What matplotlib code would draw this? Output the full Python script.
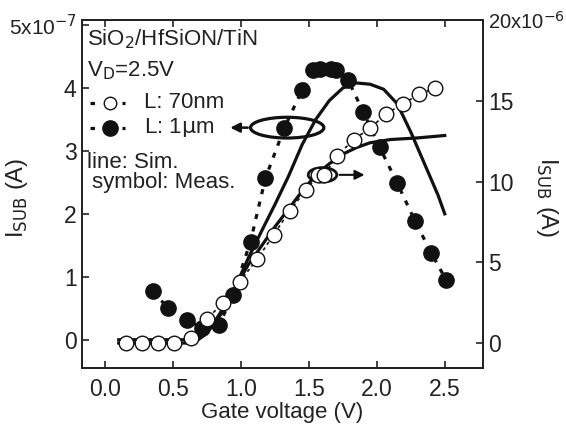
import matplotlib
matplotlib.use('Agg')
import matplotlib.pyplot as plt
from matplotlib.patches import Ellipse
from matplotlib.lines import Line2D

plt.rcParams['font.family'] = ['Liberation Sans', 'DejaVu Sans']

# L = 1 um, measured (left axis, x1e-7 A)
v_1um = [0.35, 0.46, 0.60, 0.71, 0.84, 0.94, 1.07, 1.18, 1.32, 1.45, 1.53, 1.58,
         1.66, 1.70, 1.79, 1.90, 2.02, 2.15, 2.28, 2.40, 2.51]
i_1um = [0.77, 0.51, 0.32, 0.19, 0.24, 0.71, 1.56, 2.57, 3.37, 3.97, 4.28, 4.30,
         4.30, 4.28, 4.12, 3.62, 3.06, 2.49, 1.89, 1.38, 0.95]

# L = 70 nm, measured (right axis, x1e-6 A)
v_70 = [0.15, 0.27, 0.39, 0.51, 0.63, 0.75, 0.87, 0.99, 1.12, 1.24, 1.36, 1.48,
        1.57, 1.61, 1.71, 1.83, 1.95, 2.07, 2.19, 2.31, 2.43]
i_70 = [0.0, 0.0, 0.0, 0.0, 0.3, 1.5, 2.5, 3.8, 5.2, 6.7, 8.2, 9.5,
        10.4, 10.4, 11.6, 12.6, 13.3, 14.2, 14.8, 15.4, 15.8]

# simulations
v_sim1 = [0.10, 0.65, 0.75, 0.85, 0.95, 1.05, 1.15, 1.25, 1.35, 1.45, 1.55, 1.65,
          1.75, 1.85, 1.95, 2.05, 2.15, 2.25, 2.35, 2.45, 2.50]
i_sim1 = [0.0, 0.0, 0.12, 0.4, 0.8, 1.28, 1.72, 2.15, 2.6, 3.1, 3.5, 3.8,
          4.0, 4.08, 4.06, 3.98, 3.75, 3.3, 2.8, 2.3, 2.0]
v_sim70 = [0.10, 0.65, 0.75, 0.85, 0.95, 1.05, 1.15, 1.25, 1.35, 1.45, 1.55, 1.65,
           1.75, 1.85, 1.95, 2.10, 2.30, 2.50]
i_sim70 = [0.0, 0.0, 0.6, 1.9, 3.3, 4.8, 6.0, 7.2, 8.3, 9.4, 10.4, 11.1,
           11.7, 12.1, 12.4, 12.6, 12.7, 12.85]

xticks = [0.0, 0.5, 1.0, 1.5, 2.0, 2.5]
lticks = [0, 1, 2, 3, 4, 5]
lticklabels = ['0', '1', '2', '3', '4', r'5x10$^{-7}$']
rticks = [0, 5, 10, 15, 20]
rticklabels = ['0', '5', '10', '15', r'20x10$^{-6}$']

ink = '#222222'
fig = plt.figure(figsize=(5.66, 4.26), dpi=100)
ax = fig.add_axes([0.145, 0.136, 0.708, 0.817])
ax2 = ax.twinx()

ax.plot(v_sim1, i_sim1, '-', color='#111111', lw=2.3, zorder=2)
ax.plot(v_1um, i_1um, color='#111111', lw=2.3, ls=(0, (1.6, 2.4)), zorder=2)
ax.plot(v_1um, i_1um, 'o', color='#111111', ms=11, zorder=4)

ax2.plot(v_sim70, i_sim70, '-', color='#111111', lw=2.3, zorder=2)
ax2.plot(v_70, i_70, color='#111111', lw=1.2, ls=(0, (2, 2)), zorder=2)
ax2.plot(v_70, i_70, 'o', mfc='white', mec='#111111', mew=1.0, ms=10.5, zorder=3)

ax.set_xlim(-0.17, 2.78)
ax.set_ylim(-0.45, 5.08)
ax2.set_ylim(-1.55, 20.0)

ax.set_xticks(xticks)
ax.set_xticklabels(['%.1f' % x for x in xticks])
ax.set_yticks(lticks)
ax.set_yticklabels(lticklabels)
ax2.set_yticks(rticks)
ax2.set_yticklabels(rticklabels)

ax.tick_params(axis='x', direction='in', top=True, length=5, width=1.2,
               labelsize=16.5, pad=7, colors=ink)
ax.tick_params(axis='y', direction='in', length=5, width=1.2,
               labelsize=16.5, pad=4, colors=ink)
ax2.tick_params(axis='y', direction='in', length=5, width=1.2,
                labelsize=16.5, pad=4, colors=ink)
ax.get_yticklabels()[-1].set_fontsize(15)
ax2.get_yticklabels()[-1].set_fontsize(14.5)
for a in (ax, ax2):
    for s in a.spines.values():
        s.set_linewidth(1.3)
        s.set_color(ink)

ax.set_xlabel('Gate voltage (V)', fontsize=16, color=ink, labelpad=1)
ax.set_ylabel(r'I$_{\mathrm{SUB}}$ (A)', fontsize=17, color=ink)
ax.yaxis.set_label_coords(-0.13, 0.49)
ax2.set_ylabel(r'I$_{\mathrm{SUB}}$ (A)', fontsize=17, color=ink, rotation=270,
               va='center')
ax2.yaxis.set_label_coords(1.16, 0.49)

# ellipses and arrows
ax.add_patch(Ellipse((1.34, 3.37), 0.54, 0.33, fill=False, lw=2.3, ec='#111111', zorder=5))
ax.annotate('', xy=(0.90, 3.37), xytext=(1.07, 3.37),
            arrowprops=dict(arrowstyle='-|>', color='#111111', lw=1.8, mutation_scale=14))
ax.add_patch(Ellipse((1.60, 2.62), 0.21, 0.23, fill=False, lw=2.0, ec='#111111', zorder=5))
ax.annotate('', xy=(1.93, 2.62), xytext=(1.705, 2.62),
            arrowprops=dict(arrowstyle='-|>', color='#111111', lw=1.5, mutation_scale=14))

# legend block
tr = ax.transAxes
fs = 16
ax.text(0.013, 0.945, r'SiO$_2$/HfSiON/TiN', transform=tr, fontsize=fs, color=ink, va='center')
ax.text(0.013, 0.853, r'V$_\mathrm{D}$=2.5V', transform=tr, fontsize=fs, color=ink, va='center')
for y, filled, lab in [(0.763, False, 'L: 70nm'), (0.69, True, r'L: 1$\mathrm{\mu}$m')]:
    ax.add_line(Line2D([0.02, 0.107], [y, y], transform=tr, color='#111111', lw=2.3,
                       ls=(0, (1.4, 3.6))))
    ax.add_line(Line2D([0.07], [y], transform=tr, marker='o', ms=11 if filled else 9,
                       mfc='#111111' if filled else 'white', mec='#111111', mew=1.0))
    ax.text(0.155, y, lab, transform=tr, fontsize=fs, color=ink, va='center')
ax.text(0.013, 0.59, 'line: Sim.', transform=tr, fontsize=fs, color=ink, va='center')
ax.text(0.025, 0.533, 'symbol: Meas.', transform=tr, fontsize=fs, color=ink, va='center')

fig.savefig('out.png', dpi=100)
